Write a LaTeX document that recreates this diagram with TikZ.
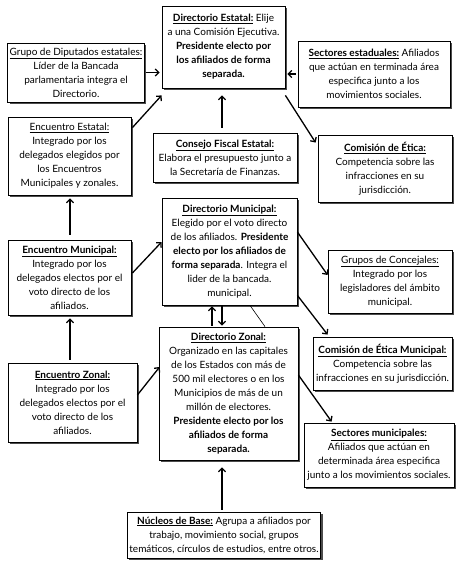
\documentclass[tikz,border=0pt]{standalone}
\usepackage{fontspec}
\setmainfont{Lato}
\usetikzlibrary{shadows,calc,arrows.meta}
\begin{document}
\begin{tikzpicture}[x=1pt,y=-1pt,
  box/.style={draw, line width=0.8pt, fill=white, align=center, inner sep=2pt,
    font=\fontsize{10}{14}\selectfont,
    drop shadow={shadow xshift=2pt,shadow yshift=-2pt,fill=black!70,opacity=1}},
  arr/.style={line width=1.3pt, -{Straight Barb[length=3.5pt,width=7pt]}},
  thin/.style={line width=0.6pt}]
\useasboundingbox (0,0) rectangle (455,567);

\node[box, minimum width=123pt, minimum height=82pt] (dest) at (223.5,47)
 {\textbf{\underline{Directorio Estatal:}} Elije\\a una Comisión Ejecutiva.\\\textbf{Presidente electo por}\\\textbf{los afiliados de forma}\\\textbf{separada.}};
\node[box, minimum width=136pt, minimum height=59pt] (gdip) at (76,72.5)
 {\underline{Grupo de Diputados estatales:}\\Líder de la Bancada\\parlamentaria integra el\\Directorio.};
\node[box, minimum width=152pt, minimum height=66pt] (sest) at (374,74)
 {\textbf{\underline{Sectores estaduales:}} Afiliados\\que actúan en terminada área\\especifica junto a los\\movimientos sociales.};
\node[box, minimum width=123pt, minimum height=78pt] (eest) at (69.5,156)
 {\underline{Encuentro Estatal:}\\Integrado por los\\delegados elegidos por\\los Encuentros\\Municipales y zonales.};
\node[box, minimum width=144pt, minimum height=49pt] (cfis) at (225,157.5)
 {\textbf{\underline{Consejo Fiscal Estatal:}}\\Elabora el presupuesto junto a\\la Secretaría de Finanzas.};
\node[box, minimum width=134pt, minimum height=67pt] (ceti) at (385,168.5)
 {\textbf{\underline{Comisión de Ética:}}\\Competencia sobre las\\infracciones en su\\jurisdicción.};
\node[box, minimum width=135pt, minimum height=107pt] (dmun) at (229.5,251.5)
 {\textbf{\underline{Directorio Municipal:}}\\Elegido por el voto directo\\de los afiliados. \textbf{Presidente}\\\textbf{electo por los afiliados de}\\\textbf{forma separada}. Integra el\\lider de la bancada.\\municipal.};
\node[box, minimum width=123pt, minimum height=75pt] (emun) at (69.5,277.5)
 {\textbf{\underline{Encuentro Municipal:}}\\Integrado por los\\delegados electos por el\\voto directo de los\\afiliados.};
\node[box, minimum width=124pt, minimum height=63pt] (gcon) at (390,281.5)
 {\underline{Grupos de Concejales:}\\Integrado por los\\legisladores del ámbito\\municipal.};
\node[box, minimum width=139pt, minimum height=133pt] (dzon) at (228.5,393.5)
 {\textbf{\underline{Directorio Zonal:}}\\Organizado en las capitales\\de los Estados con más de\\500 mil electores o en los\\Municipios de más de un\\millón de electores.\\\textbf{Presidente electo por los}\\\textbf{afiliados de forma}\\\textbf{separada.}};
\node[box, minimum width=129pt, minimum height=79pt] (ezon) at (72.5,402.5)
 {\textbf{\underline{Encuentro Zonal:}}\\Integrado por los\\delegados electos por el\\voto directo de los\\afiliados.};
\node[box, minimum width=139pt, minimum height=53pt] (cetm) at (382.5,363.5)
 {\textbf{\underline{Comisión de Ética Municipal:}}\\Competencia sobre las\\infracciones en su jurisdicción.};
\node[box, minimum width=150pt, minimum height=64pt] (smun) at (379,455)
 {\textbf{\underline{Sectores municipales:}}\\Afiliados que actúan en\\determinada área especifica\\junto a los movimientos sociales.};
\node[box, minimum width=188pt, minimum height=46pt] (nucl) at (224,535)
 {\textbf{\underline{Núcleos de Base:}} Agrupa a afiliados por\\trabajo, movimiento social, grupos\\temáticos, círculos de estudios, entre otros.};

% helper coordinates
\coordinate (cfN) at ($(cfis.north)+(-3,0)$);
\coordinate (emN) at ($(emun.north)+(0.5,0)$);
\coordinate (emS) at ($(emun.south)+(0.5,0)$);
\coordinate (dzU) at ($(dzon.north)+(-16.5,0)$);
\coordinate (dmD) at ($(dmun.south)+(-7.5,0)$);
\coordinate (nuN) at ($(nucl.north)+(-2,0)$);

% connectors
\draw[arr, shorten <=1pt, shorten >=2pt] (gdip.east) -- (gdip.east -| dest.west);
\draw[arr, shorten <=2pt, shorten >=2pt] (sest.west) -- (sest.west -| dest.east);
\draw[arr] ($(eest.north east)+(1,11)$) -- ($(dest.south west)+(0,7)$);
\draw[arr] ($(dest.south east)+(0,7)$) -- ($(ceti.north west)+(-2,8)$);
\draw[arr, shorten <=5pt, shorten >=7pt] (cfN) -- (cfN |- dest.south);
\draw[arr, shorten <=5pt, shorten >=3pt] (emN) -- (emN |- eest.south);
\draw[arr, shorten <=3pt, shorten >=3pt] (emS |- ezon.north) -- (emS);
\draw[arr] ($(emun.east)+(1,-4.5)$) -- ($(dmun.west)+(0,-9.5)$);
\draw[arr] ($(ezon.east)+(0,-7.5)$) -- ($(dzon.west)+(1,-26.5)$);
\draw[arr] ($(dmun.east)+(0,-19.5)$) -- ($(gcon.west)+(0,-6.5)$);
\draw[arr] ($(dmun.south east)+(0,-10)$) -- ($(cetm.north west)+(15,-2)$);
\draw[arr] ($(dzon.east)+(0,-18.5)$) -- ($(smun.north west)+(28,-1)$);
\draw[arr, shorten <=1pt, shorten >=1pt] (dzU) -- (dzU |- dmun.south);
\draw[arr, shorten <=1pt, shorten >=1pt] (dmD) -- (dmD |- dzon.north);
\draw[thin] ($(dmun.south)+(20.5,0)$) -- ($(dzon.north)+(36.5,0)$);
\draw[arr, shorten <=2pt, shorten >=7pt] (nuN) -- (nuN |- dzon.south);
\end{tikzpicture}
\end{document}
